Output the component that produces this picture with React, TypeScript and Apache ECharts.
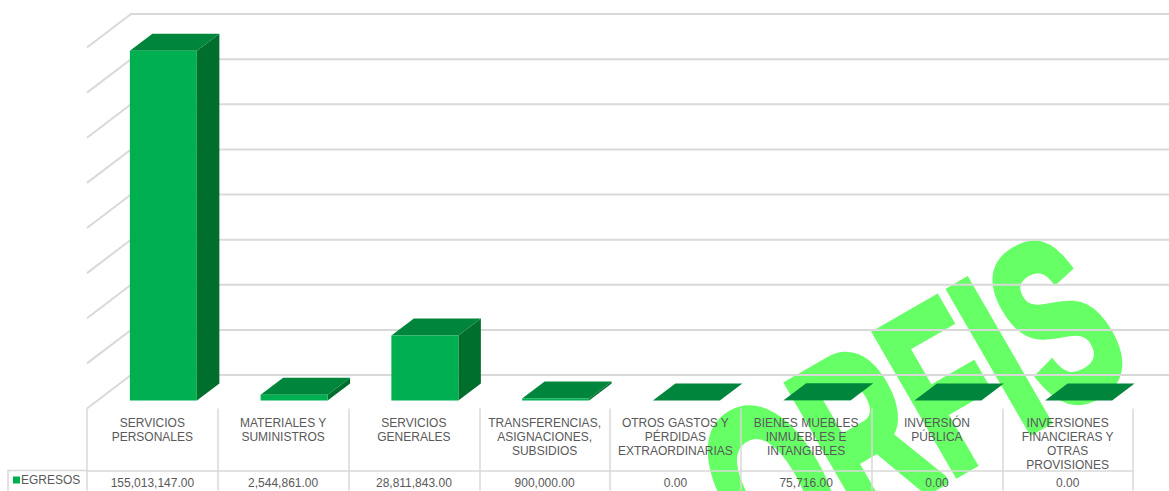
import React, { useEffect, useRef } from "react";
import * as echarts from "echarts";

const categories = [
  "SERVICIOS\nPERSONALES",
  "MATERIALES Y\nSUMINISTROS",
  "SERVICIOS\nGENERALES",
  "TRANSFERENCIAS,\nASIGNACIONES,\nSUBSIDIOS",
  "OTROS GASTOS Y\nPÉRDIDAS\nEXTRAORDINARIAS",
  "BIENES MUEBLES\nINMUEBLES E\nINTANGIBLES",
  "INVERSIÓN\nPÚBLICA",
  "INVERSIONES\nFINANCIERAS Y\nOTRAS\nPROVISIONES",
];
const egresos = [155013147, 2544861, 28811843, 900000, 0, 75716, 0, 0];
const wallTicks = [0, 20000000, 40000000, 60000000, 80000000, 100000000, 120000000, 140000000, 160000000];
const seriesName = "EGRESOS";
const watermark = "ORFIS";

const GRID = "#d9d9d9";
const TEXT = "#595959";
const FONT = "Liberation Sans";
const DEPTH_X = 44;
const DEPTH_Y = 33.5;

const money = (v: number) =>
  v.toLocaleString("en-US", { minimumFractionDigits: 2, maximumFractionDigits: 2 });

export default function App() {
  const ref = useRef<HTMLDivElement>(null);
  useEffect(() => {
    const chart = echarts.init(ref.current!, undefined, { renderer: "svg" });
    chart.setOption({
      animation: false,
      backgroundColor: "#ffffff",
      grid: { left: 87, right: 36, top: 47.5, height: 361 },
      legend: {
        data: [seriesName],
        left: 11,
        top: 472,
        padding: [2, 2],
        itemWidth: 7,
        itemHeight: 7,
        icon: "rect",
        textStyle: { color: TEXT, fontSize: 12, fontFamily: FONT, padding: [0, 0, 0, -4] },
      },
      xAxis: [
        {
          type: "category",
          data: categories,
          position: "bottom",
          axisLine: { show: false },
          axisTick: { show: true, length: 82, lineStyle: { color: GRID, width: 1.5 } },
          axisLabel: {
            interval: 0,
            margin: 7,
            color: TEXT,
            fontSize: 12,
            fontFamily: FONT,
            lineHeight: 14,
            verticalAlign: "top",
            width: 130,
          },
        },
        {
          type: "category",
          data: egresos.map(money),
          position: "bottom",
          offset: 62,
          axisLine: { show: true, lineStyle: { color: GRID, width: 1.5 } },
          axisTick: { show: false },
          axisLabel: { interval: 0, margin: 6, color: TEXT, fontSize: 12, fontFamily: FONT },
        },
      ],
      yAxis: {
        type: "value",
        min: 0,
        max: 160000000,
        interval: 20000000,
        axisLabel: { show: false },
        axisLine: { show: false },
        axisTick: { show: false },
        splitLine: { show: false },
      },
      graphic: [
        {
          type: "text",
          z: -1,
          x: 911,
          y: 406,
          rotation: Math.PI / 6,
          scaleX: 0.6,
          silent: true,
          style: {
            text: watermark,
            fontSize: 234,
            fontWeight: "bold",
            fontFamily: FONT,
            fill: "#66ff66",
            stroke: "#66ff66",
            lineWidth: 9,
            align: "center",
            verticalAlign: "middle",
          },
        },
        {
          type: "polyline",
          silent: true,
          shape: { points: [[8, 491], [8, 470.5], [87, 470.5]] },
          style: { stroke: GRID, lineWidth: 1.5, fill: "none" },
        },
      ],
      series: [
        {
          type: "custom",
          name: "walls",
          coordinateSystem: "cartesian2d",
          clip: false,
          silent: true,
          z: 1,
          data: wallTicks.map((v) => [0, v]),
          encode: { x: 0, y: 1 },
          renderItem: (params: any, api: any) => {
            const y = api.coord([0, api.value(1)])[1];
            const x0 = params.coordSys.x;
            return {
              type: "polyline",
              shape: {
                points: [
                  [x0, y],
                  [x0 + DEPTH_X, y - DEPTH_Y],
                  [x0 + params.coordSys.width + DEPTH_X, y - DEPTH_Y],
                ],
              },
              style: { stroke: GRID, lineWidth: 2, fill: "none" },
            };
          },
        },
        {
          type: "custom",
          name: seriesName,
          coordinateSystem: "cartesian2d",
          clip: false,
          silent: true,
          z: 3,
          itemStyle: { color: "#00B050" },
          data: egresos.map((v, i) => [i, v]),
          encode: { x: 0, y: 1 },
          renderItem: (_params: any, api: any) => {
            const c = api.coord([api.value(0), api.value(1)]);
            const base = api.coord([api.value(0), 0]);
            const cx = c[0] + DEPTH_X / 4;
            const w = 67;
            const dx = 22.5;
            const dy = 17;
            const l = cx - w / 2;
            const r = cx + w / 2;
            const yb = base[1] - 8;
            const yt = c[1] - 8;
            return {
              type: "group",
              children: [
                {
                  type: "polygon",
                  shape: { points: [[r, yb], [r + dx, yb - dy], [r + dx, yt - dy], [r, yt]] },
                  style: { fill: "#006F2E" },
                },
                {
                  type: "polygon",
                  shape: { points: [[l, yt], [l + dx, yt - dy], [r + dx, yt - dy], [r, yt]] },
                  style: { fill: "#00863C" },
                },
                {
                  type: "rect",
                  shape: { x: l, y: yt, width: w, height: yb - yt },
                  style: { fill: "#00B050" },
                },
              ],
            };
          },
        },
      ],
    });
    return () => chart.dispose();
  }, []);
  return (
    <div
      ref={ref}
      style={{ position: "absolute", left: 0, top: 0, width: 1169, height: 491 }}
    />
  );
}
